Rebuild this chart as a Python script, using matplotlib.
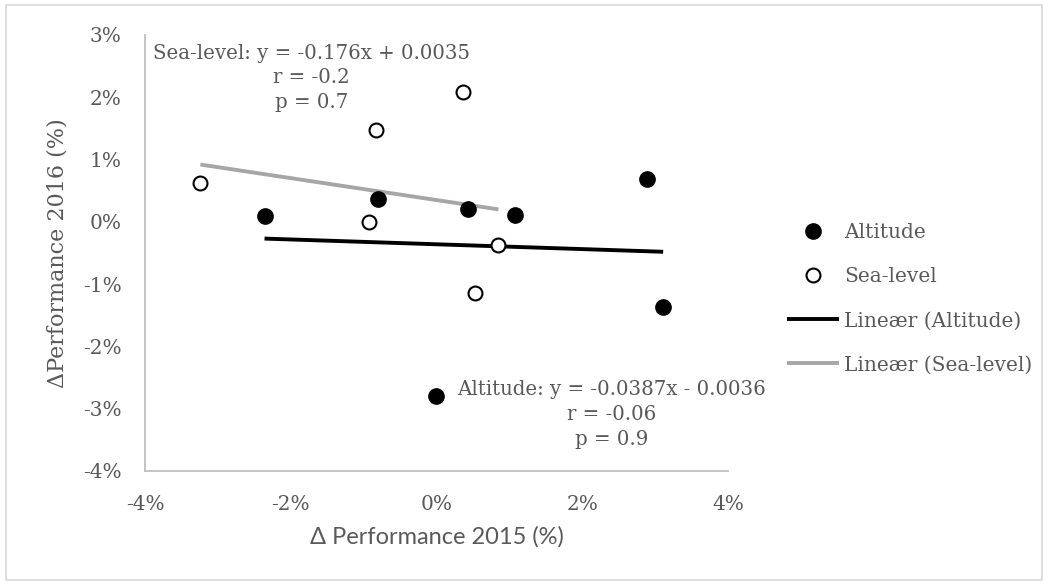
import matplotlib
matplotlib.use("Agg")
import matplotlib.pyplot as plt
from matplotlib.patches import Rectangle
from matplotlib.ticker import FuncFormatter
import numpy as np

# ---- data (in %) ----
alt_x = [-2.36, -0.80, 0.43, 1.08, 2.89, 3.11, -0.01]
alt_y = [0.10, 0.37, 0.21, 0.11, 0.69, -1.36, -2.79]
sea_x = [-3.24, -0.83, 0.36, -0.92, 0.85, 0.53]
sea_y = [0.63, 1.48, 2.09, 0.00, -0.37, -1.14]

# trendline equations (fractions, as in the labels)
alt_slope, alt_intercept = -0.0387, -0.0036
sea_slope, sea_intercept = -0.176, 0.0035

sea_label = "Sea-level: y = -0.176x + 0.0035\nr = -0.2\np = 0.7"
alt_label = "Altitude: y = -0.0387x - 0.0036\nr = -0.06\np = 0.9"

xticks = [-4, -2, 0, 2, 4]
yticks = [-4, -3, -2, -1, 0, 1, 2, 3]

GRAY_TXT = "#595959"
SERIF = "DejaVu Serif"

fig = plt.figure(figsize=(10.48, 5.85), dpi=100)
# chart-area border
fig.patches.append(Rectangle((6 / 1048, 5 / 585), 1036 / 1048, 575 / 585,
                             transform=fig.transFigure, fill=False,
                             edgecolor="#d9d9d9", linewidth=1.2))

ax = fig.add_axes([145 / 1048, 1 - 471 / 585, 583 / 1048, 436 / 585])

# trendlines
def trend(xs, slope, intercept):
    xa = np.array([min(xs), max(xs)]) / 100.0
    return xa * 100, (slope * xa + intercept) * 100

tx, ty = trend(alt_x, alt_slope, alt_intercept)
ax.plot(tx, ty, color="black", lw=2.8, solid_capstyle="butt", zorder=2,
        label="Lineær (Altitude)")
tx, ty = trend(sea_x, sea_slope, sea_intercept)
ax.plot(tx, ty, color="#a6a6a6", lw=2.8, solid_capstyle="butt", zorder=2,
        label="Lineær (Sea-level)")

ax.plot(alt_x, alt_y, ls="none", marker="o", ms=11, mfc="black", mec="black",
        zorder=3, label="Altitude")
ax.plot(sea_x, sea_y, ls="none", marker="o", ms=10, mfc="white", mec="black",
        mew=1.5, zorder=3, label="Sea-level")

ax.set_xlim(-4, 4)
ax.set_ylim(-4, 3)
ax.set_xticks(xticks)
ax.set_yticks(yticks)
ax.xaxis.set_major_formatter(FuncFormatter(lambda v, p: f"{v:.0f}%"))
ax.yaxis.set_major_formatter(FuncFormatter(lambda v, p: f"{v:.0f}%"))
ax.tick_params(length=0, colors=GRAY_TXT, labelsize=14.5)
ax.tick_params(axis="x", pad=17)
ax.tick_params(axis="y", pad=17)
for lab in ax.get_xticklabels() + ax.get_yticklabels():
    lab.set_fontfamily(SERIF)
for s in ["top", "right"]:
    ax.spines[s].set_visible(False)
for s in ["left", "bottom"]:
    ax.spines[s].set_color("#bfbfbf")
    ax.spines[s].set_linewidth(1.3)

ax.set_xlabel("Δ Performance 2015 (%)", fontsize=17, color=GRAY_TXT,
              family="Lato", labelpad=9)
ax.set_ylabel("ΔPerformance 2016 (%)", fontsize=16, color=GRAY_TXT,
              family=SERIF, labelpad=10)

ax.text(0.285, 0.902, sea_label, transform=ax.transAxes, ha="center",
        va="center", multialignment="center", fontsize=14.2, color=GRAY_TXT,
        family=SERIF, linespacing=1.38)
ax.text(0.801, 0.130, alt_label, transform=ax.transAxes, ha="center",
        va="center", multialignment="center", fontsize=14.2, color=GRAY_TXT,
        family=SERIF, linespacing=1.38)

handles, labels = ax.get_legend_handles_labels()
order = [2, 3, 0, 1]
leg = fig.legend([handles[i] for i in order], [labels[i] for i in order],
                 loc="upper left", bbox_to_anchor=(787 / 1048, 1 - 223 / 585),
                 frameon=False, handlelength=2.6,
                 handletextpad=0.25, labelspacing=1.25, borderaxespad=0,
                 borderpad=0, prop={"family": SERIF, "size": 14.5})
for t in leg.get_texts():
    t.set_color(GRAY_TXT)

fig.savefig("out.png", dpi=100)
